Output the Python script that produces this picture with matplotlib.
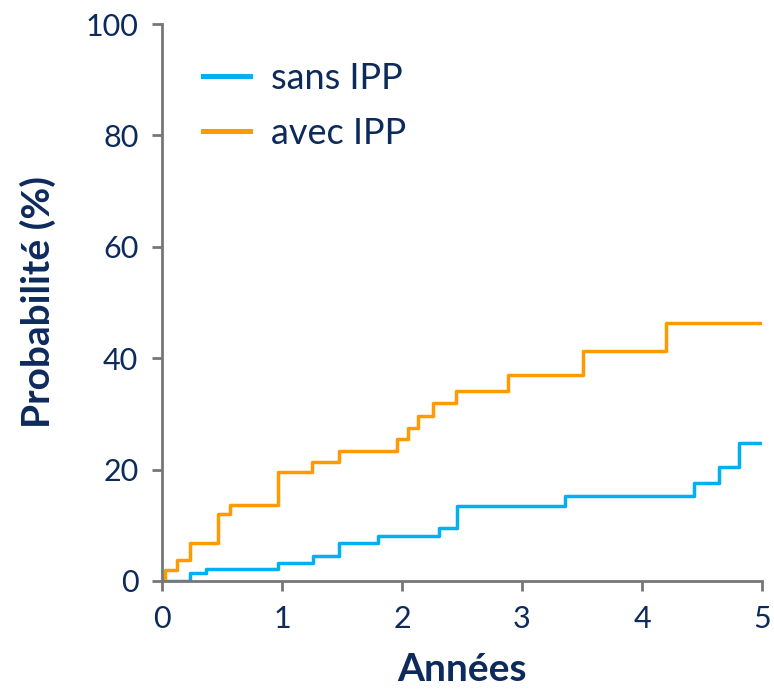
import matplotlib
matplotlib.use("Agg")
import matplotlib.pyplot as plt

# Data (years, cumulative probability %)
sans_t = [0.0, 0.233, 0.364, 0.964, 1.256, 1.475, 1.80, 2.31, 2.46, 3.36, 4.43, 4.64, 4.81, 4.99]
sans_p = [0.0, 1.4, 2.1, 3.2, 4.5, 6.8, 8.1, 9.5, 13.4, 15.3, 17.6, 20.4, 24.7, 24.7]
avec_t = [0.0, 0.025, 0.128, 0.233, 0.47, 0.567, 0.964, 1.247, 1.475, 1.96, 2.05, 2.13, 2.26,
          2.45, 2.88, 3.51, 4.20, 4.99]
avec_p = [0.0, 2.0, 3.8, 6.8, 12.0, 13.6, 19.5, 21.4, 23.3, 25.5, 27.5, 29.6, 31.9,
          34.2, 36.9, 41.3, 46.4, 46.4]
labels = ["sans IPP", "avec IPP"]
xticks = [0, 1, 2, 3, 4, 5]
yticks = [0, 20, 40, 60, 80, 100]

navy = "#0D2A5C"
spine = "#777777"
plt.rcParams['font.family'] = ['Lato', 'DejaVu Sans']

fig = plt.figure(figsize=(7.74, 6.91), dpi=100)
ax = fig.add_axes([162/774, 1-581/691, 600/774, 557/691])

ax.step(sans_t, sans_p, where='post', color="#00B0F0", lw=2.5, label=labels[0])
ax.step(avec_t, avec_p, where='post', color="#FF9A00", lw=2.5, label=labels[1])

ax.set_xlim(0, 5)
ax.set_ylim(0, 100)
ax.set_xticks(xticks)
ax.set_yticks(yticks)
for s in ['top', 'right']:
    ax.spines[s].set_visible(False)
for s in ['left', 'bottom']:
    ax.spines[s].set_color(spine)
    ax.spines[s].set_linewidth(2)
ax.tick_params(axis='both', colors=spine, width=2, length=7, direction='out',
               labelsize=22, labelcolor=navy, pad=10)

ax.set_xlabel("Années", fontsize=28, fontweight='bold', color=navy, labelpad=14)
ax.set_ylabel("Probabilité (%)", fontsize=28, fontweight='bold', color=navy, labelpad=21)

leg = ax.legend(loc='upper left', bbox_to_anchor=(0.038, 0.965), frameon=False,
                borderpad=0, fontsize=26, handlelength=1.3, handletextpad=0.6,
                labelspacing=0.62)
for t in leg.get_texts():
    t.set_color(navy)
for l in leg.get_lines():
    l.set_linewidth(3.6)

fig.savefig("out.png", dpi=100)
